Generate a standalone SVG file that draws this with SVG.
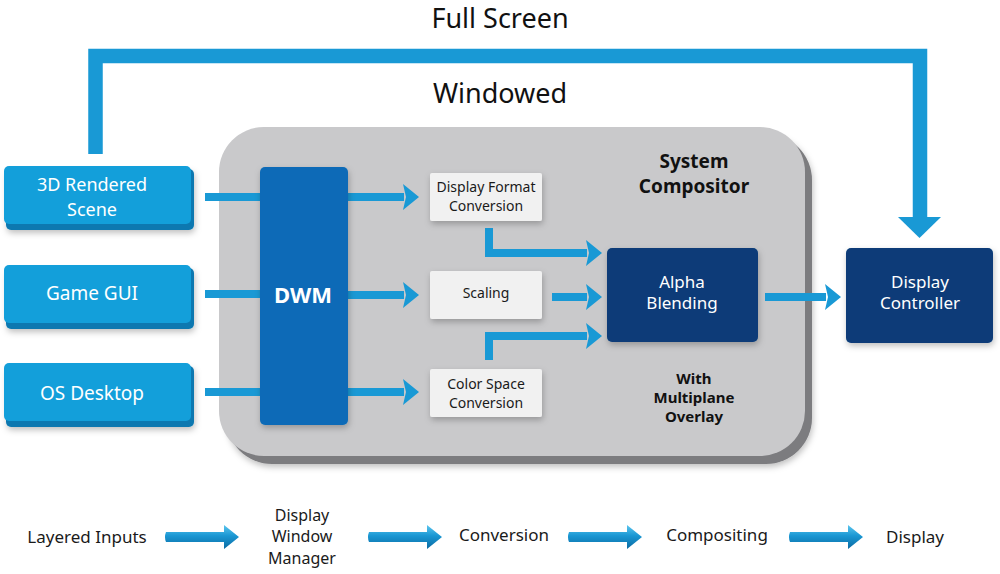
<svg xmlns="http://www.w3.org/2000/svg" xmlns:xlink="http://www.w3.org/1999/xlink" width="1000" height="574" viewBox="0 0 1000 574">
<style>
  text { font-family: "Noto Sans", "Open Sans", "DejaVu Sans", sans-serif; text-anchor: middle; }
  .title { font-size: 27px; fill: #111; }
  .inp { font-size: 19px; fill: #ffffff; }
  .inpS { font-size: 18px; fill: #ffffff; }
  .conv { font-size: 14px; fill: #1a1a1a; }
  .navy { font-size: 17px; fill: #ffffff; }
  .bold { font-weight: bold; fill: #111; }
  .step { font-size: 17px; fill: #1a1a1a; }
  .stepS { font-size: 16px; fill: #1a1a1a; }
  .link { fill: none; stroke: #1999d5; stroke-width: 8; }
  .face { fill: #139fda; }
  .edge { fill: #0a78b0; }
  .cbox { fill: #f1f1f1; filter: url(#sh); }
  .navybox { fill: #083b78; filter: url(#sh); }
</style>
<defs>
  <filter id="sh" x="-20%" y="-20%" width="140%" height="150%">
    <feDropShadow dx="1" dy="3" stdDeviation="3" flood-color="#000" flood-opacity="0.25"/>
  </filter>
  <marker id="ah" markerUnits="userSpaceOnUse" viewBox="0 0 16 26" markerWidth="16" markerHeight="26" refX="1" refY="13" orient="auto">
    <path d="M0,0 L16,13 L0,26 L3,13 Z" fill="#1999d5"/>
  </marker>
  <linearGradient id="tube" x1="0" y1="0" x2="0" y2="1">
    <stop offset="0" stop-color="#5cc6ee"/>
    <stop offset="0.45" stop-color="#1a97d3"/>
    <stop offset="1" stop-color="#0b6aa2"/>
  </linearGradient>
  <path id="barrow" d="M0,-5 Q-2,0 0,5 H58 V12 L73,0 L58,-12 V-5 Z" fill="url(#tube)"/>
</defs>

<rect width="1000" height="574" fill="#ffffff"/>

<text class="title" x="500" y="28">Full Screen</text>
<text class="title" x="500" y="103">Windowed</text>

<g id="compositor">
  <rect x="226" y="134" width="586" height="330" rx="46" fill="#7c7c7f" filter="url(#sh)"/>
  <rect x="219" y="127" width="586" height="329" rx="45" fill="#c9c9cb"/>
  <text class="bold" x="694" y="168" font-size="19">System</text>
  <text class="bold" x="694" y="193" font-size="19">Compositor</text>
  <text class="bold" x="694" y="384" font-size="15">With</text>
  <text class="bold" x="694" y="403" font-size="15">Multiplane</text>
  <text class="bold" x="694" y="422" font-size="15">Overlay</text>
</g>

<g id="connectors">
  <path d="M95.5,154 V56 H920 V218" fill="none" stroke="#1999d5" stroke-width="14.5" stroke-linejoin="miter"/>
  <polygon points="898,217 941,217 919.5,238" fill="#1999d5"/>
  <line class="link" x1="205" y1="197" x2="262" y2="197"/>
  <line class="link" x1="205" y1="294" x2="262" y2="294"/>
  <line class="link" x1="205" y1="392" x2="262" y2="392"/>
  <line class="link" x1="345" y1="197" x2="404" y2="197" marker-end="url(#ah)"/>
  <line class="link" x1="345" y1="295" x2="404" y2="295" marker-end="url(#ah)"/>
  <line class="link" x1="345" y1="392" x2="404" y2="392" marker-end="url(#ah)"/>
  <path class="link" d="M489,228 V253 H587" marker-end="url(#ah)"/>
  <line class="link" x1="552" y1="297" x2="587" y2="297" marker-end="url(#ah)"/>
  <path class="link" d="M489,360 V336 H587" marker-end="url(#ah)"/>
  <line class="link" x1="765" y1="297" x2="826" y2="297" marker-end="url(#ah)"/>
</g>

<g id="in3d">
  <rect class="edge" x="6" y="169" width="188" height="61" rx="5" filter="url(#sh)"/>
  <rect class="face" x="4" y="166" width="187" height="58" rx="5"/>
  <text class="inpS" x="92" y="191">3D Rendered</text>
  <text class="inpS" x="92" y="216">Scene</text>
</g>
<g id="gamegui">
  <rect class="edge" x="6" y="268" width="188" height="61" rx="5" filter="url(#sh)"/>
  <rect class="face" x="4" y="265" width="187" height="58" rx="5"/>
  <text class="inp" x="92" y="300">Game GUI</text>
</g>
<g id="osdesktop">
  <rect class="edge" x="6" y="366" width="188" height="61" rx="5" filter="url(#sh)"/>
  <rect class="face" x="4" y="363" width="187" height="58" rx="5"/>
  <text class="inp" x="92" y="400">OS Desktop</text>
</g>

<g id="dwm">
  <rect x="260" y="167" width="88" height="258" rx="5" fill="#0b6bb7" filter="url(#sh)"/>
  <text x="303" y="303" font-size="22" font-weight="bold" fill="#ffffff">DWM</text>
</g>

<g id="dfc">
  <rect class="cbox" x="430" y="173" width="112" height="48" rx="2"/>
  <text class="conv" x="486" y="192">Display Format</text>
  <text class="conv" x="486" y="211">Conversion</text>
</g>
<g id="scaling">
  <rect class="cbox" x="430" y="271" width="112" height="48" rx="2"/>
  <text class="conv" x="486" y="298">Scaling</text>
</g>
<g id="csc">
  <rect class="cbox" x="430" y="369" width="112" height="48" rx="2"/>
  <text class="conv" x="486" y="389">Color Space</text>
  <text class="conv" x="486" y="408">Conversion</text>
</g>

<g id="alpha">
  <rect class="navybox" x="607" y="248" width="151" height="94" rx="5"/>
  <text class="navy" x="682" y="288">Alpha</text>
  <text class="navy" x="682" y="309">Blending</text>
</g>
<g id="dispctrl">
  <rect class="navybox" x="846" y="248" width="147" height="95" rx="5"/>
  <text class="navy" x="920" y="288">Display</text>
  <text class="navy" x="920" y="309">Controller</text>
</g>

<g id="pipeline">
  <text class="step" x="87" y="543">Layered Inputs</text>
  <use xlink:href="#barrow" x="166" y="537"/>
  <text class="stepS" x="302" y="521">Display</text>
  <text class="stepS" x="302" y="542">Window</text>
  <text class="stepS" x="302" y="564">Manager</text>
  <use xlink:href="#barrow" x="369" y="537"/>
  <text class="step" x="504" y="541">Conversion</text>
  <use xlink:href="#barrow" x="569" y="537"/>
  <text class="step" x="717" y="541">Compositing</text>
  <use xlink:href="#barrow" x="790" y="537"/>
  <text class="step" x="915" y="543">Display</text>
</g>
</svg>
